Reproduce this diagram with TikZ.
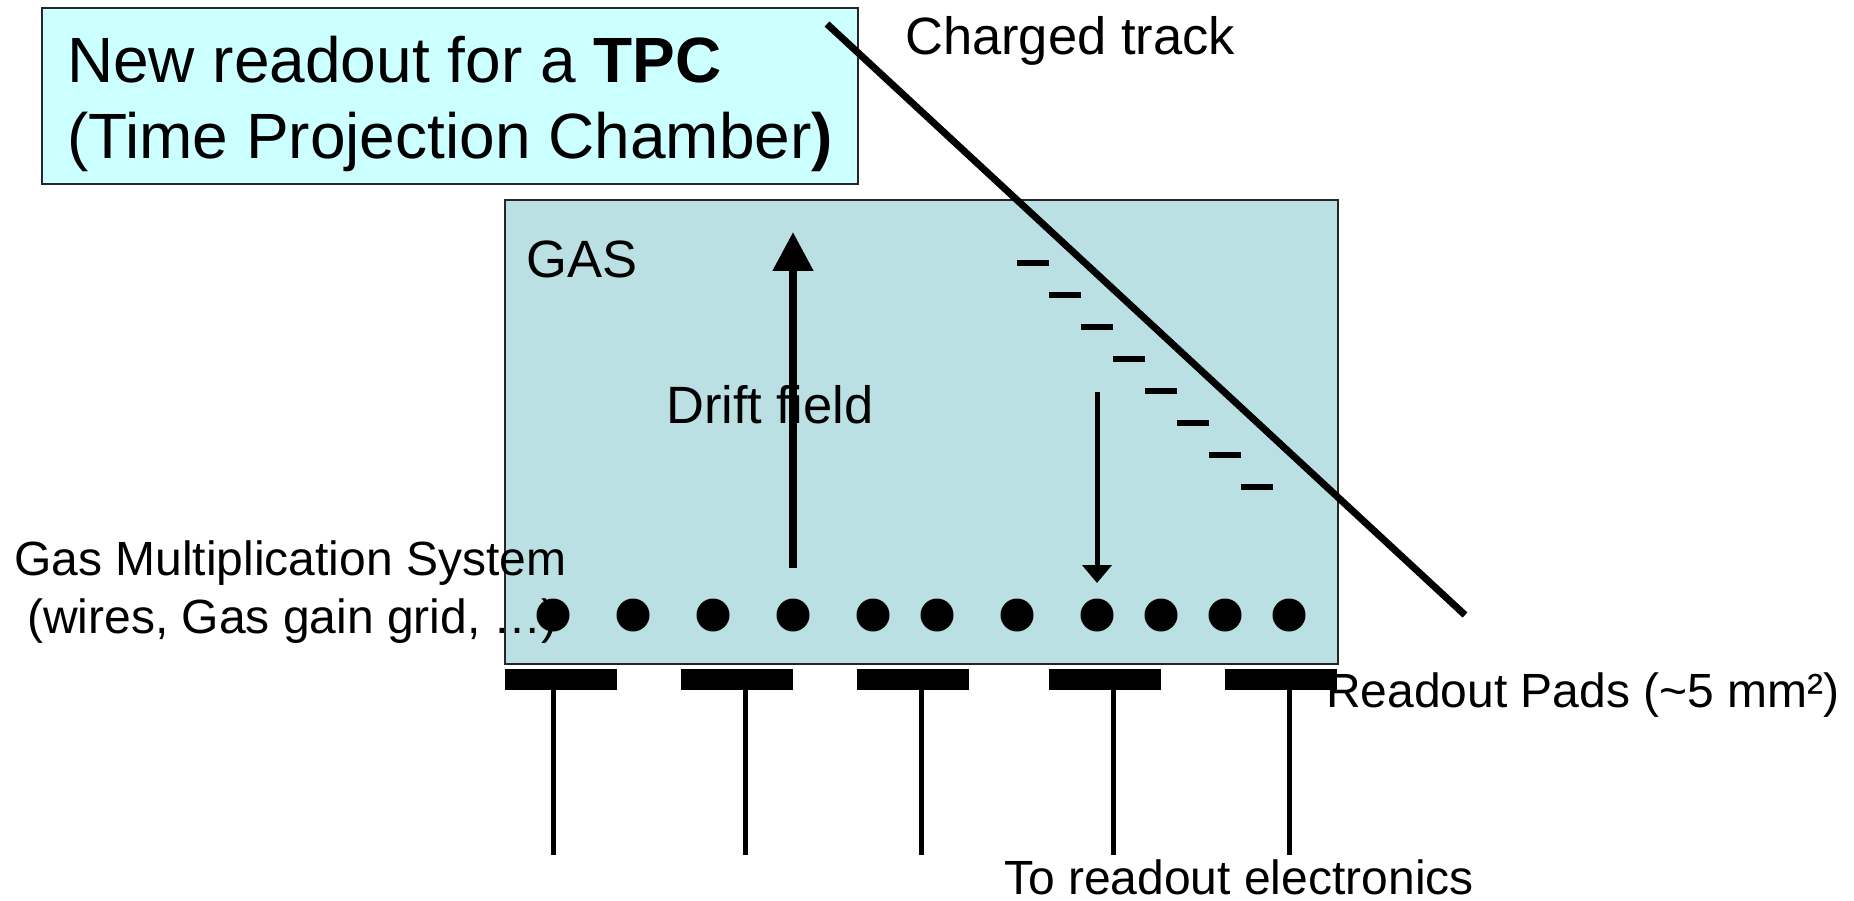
\documentclass[tikz,border=0pt]{standalone}
\usepackage{fontspec}
\setmainfont{Liberation Sans}
\usetikzlibrary{arrows.meta}
\definecolor{titlefill}{HTML}{CCFFFF}
\definecolor{gasfill}{HTML}{BBE0E3}
\begin{document}
\begin{tikzpicture}[x=1pt,y=-1pt,
  lbl/.style={inner sep=0pt, anchor=base west},
  big/.style={font=\fontsize{64}{77}\selectfont},
  mid/.style={font=\fontsize{52.5}{62}\selectfont},
  sml/.style={font=\fontsize{48}{58}\selectfont},
  frame/.style={draw=black!85, line width=1.8pt, inner sep=0pt, anchor=north west},
  pad/.style={fill=black, inner sep=0pt, minimum width=112pt, minimum height=21pt, anchor=north west},
  wire/.style={circle, fill=black, inner sep=0pt, minimum size=33pt},
  stem/.style={line width=5pt},
  dashmark/.style={line width=6pt},
  track/.style={line width=7pt}
]
\useasboundingbox (0,0) rectangle (1854,901);

% boxes
\node[frame, fill=titlefill, minimum width=816pt, minimum height=176pt] (titlebox) at (41,7) {};
\node[frame, fill=gasfill, minimum width=833pt, minimum height=464pt] (gasbox) at (504,199) {};

% texts
\node[lbl,big] (t1) at (67,83) {New readout for a \textbf{TPC}};
\node[lbl,big] (t2) at (67,159) {(Time Projection Chamber\textbf{)}};
\node[lbl,mid] (gas) at (526,277) {GAS};
\node[lbl,mid] (charged) at (905,55) {Charged track};
\node[lbl,mid] (drift) at (666,423) {Drift field};
\node[lbl,sml] (gms1) at (14,575) {Gas Multiplication System};
\node[lbl,sml] (gms2) at (27,633) {(wires, Gas gain grid, …)};
\node[lbl,sml] (pads) at (1326,707) {Readout Pads (\textasciitilde 5 mm²)};
\node[lbl,sml] (elec) at (1004,894) {To readout electronics};

% wires (dots)
\foreach \x [count=\i] in {553,633,713,793,873,937,1017,1097,1161,1225,1289}
  \node[wire] (w\i) at (\x,615) {};

% readout pads
\node[pad] (p1) at (505,669) {};
\node[pad] (p2) at (681,669) {};
\node[pad] (p3) at (857,669) {};
\node[pad] (p4) at (1049,669) {};
\node[pad] (p5) at (1225,669) {};

% stems to electronics
\coordinate (e1) at (553,855);
\coordinate (e2) at (745,855);
\coordinate (e3) at (921,855);
\coordinate (e4) at (1113,855);
\coordinate (e5) at (1289,855);
\foreach \i in {1,...,5}
  \draw[stem] (p\i.south -| e\i) -- (e\i);

% drift field arrow
\coordinate (upfrom) at (793,568);
\coordinate (upto) at (793,232);
\draw[line width=8pt, -{Triangle[length=39pt,width=39pt]}] (upfrom) -- (upto);

% electron drift arrow
\coordinate (dnfrom) at (1097,392);
\coordinate (dnto) at (1097,583);
\draw[line width=5pt, -{Triangle[length=18pt,width=29pt]}] (dnfrom) -- (dnto);

% ionisation electrons
\foreach \k in {0,...,7}
  \draw[dashmark] ({1017+32*\k},{263+32*\k}) -- ++(32,0);

% charged track
\coordinate (trA) at (827,24);
\coordinate (trB) at (1465,615);
\draw[track] (trA) -- (trB);
\end{tikzpicture}
\end{document}
